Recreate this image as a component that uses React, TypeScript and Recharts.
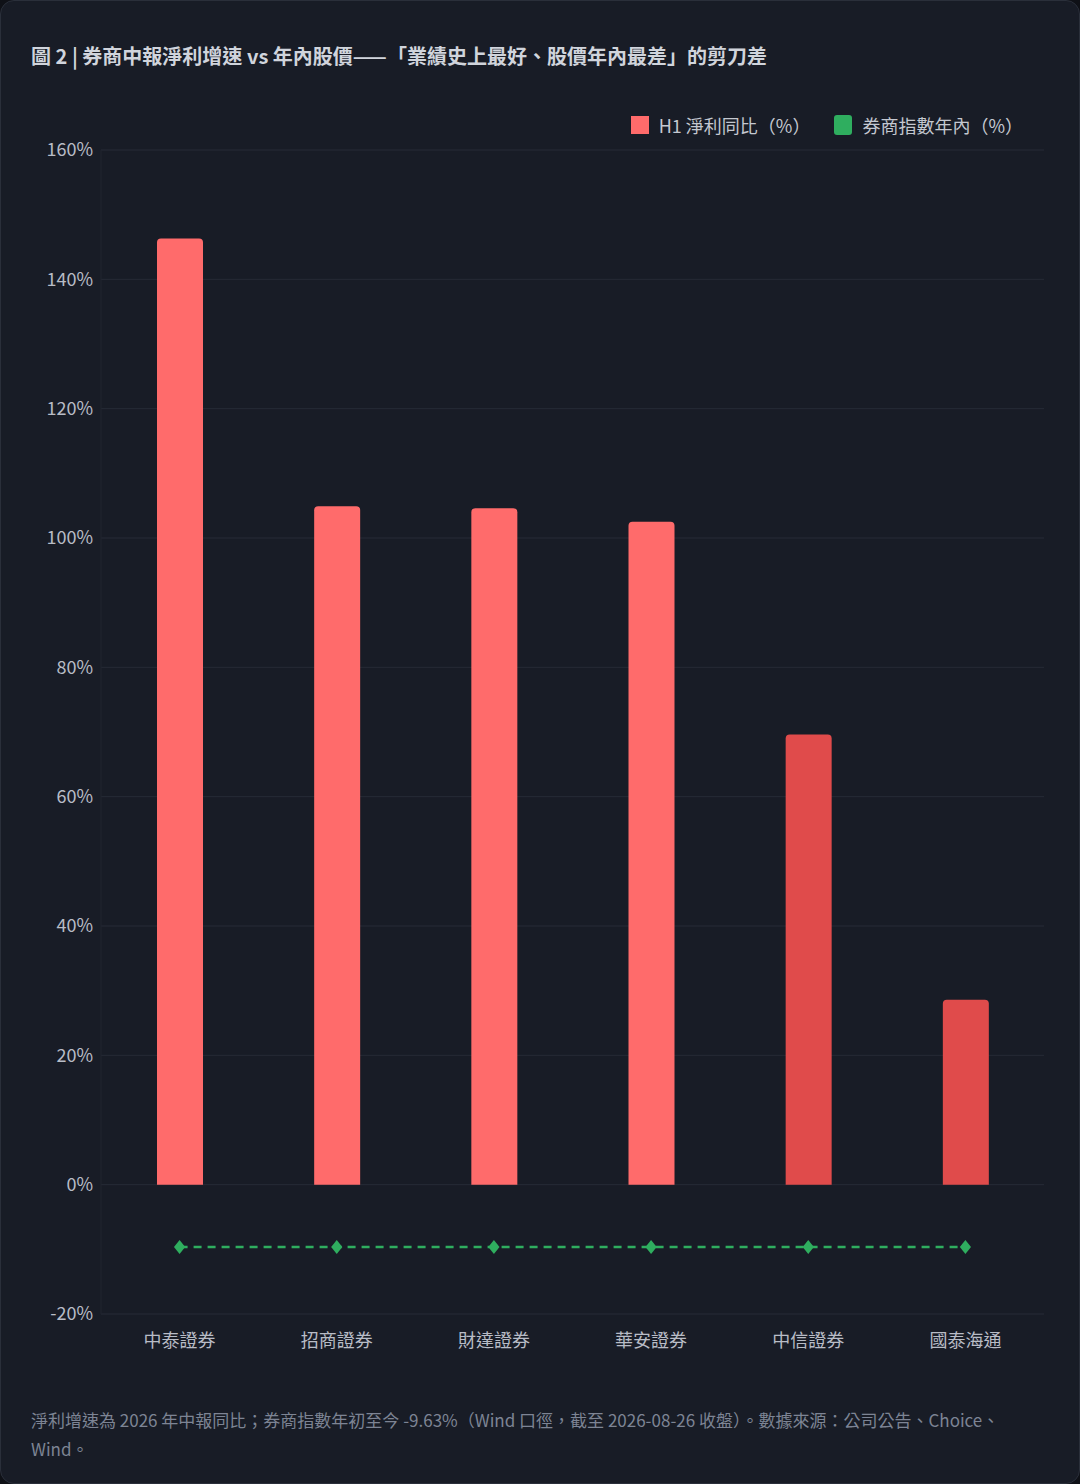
import React from "react";
import { ComposedChart, Bar, Line, XAxis, YAxis, CartesianGrid, Cell } from "recharts";

const categories = ["中泰證券", "招商證券", "財達證券", "華安證券", "中信證券", "國泰海通"];
const profitGrowth = [146.3, 104.9, 104.6, 102.5, 69.6, 28.6];
const indexYtd = [-9.63, -9.63, -9.63, -9.63, -9.63, -9.63];
const barColors = ["#ff6b6b", "#ff6b6b", "#ff6b6b", "#ff6b6b", "#e04b4b", "#e04b4b"];
const yTicks = [-20, 0, 20, 40, 60, 80, 100, 120, 140, 160];

const data = categories.map((name, i) => ({ name, profit: profitGrowth[i], idx: indexYtd[i] }));

const font = "'Noto Sans CJK TC', 'Noto Sans', sans-serif";

const Diamond = (props: any) => {
  const { cx, cy } = props;
  if (cx == null || cy == null) return null;
  const r = 7;
  return <path d={`M${cx},${cy - r}L${cx + r * 0.8},${cy}L${cx},${cy + r}L${cx - r * 0.8},${cy}Z`} fill="#2fae5f" />;
};

export default function App() {
  return (
    <div style={{ position: "relative", width: 1080, height: 1484, background: "#181c26", borderRadius: 14, border: "1px solid #2a2f3a", boxSizing: "border-box", fontFamily: font, overflow: "hidden" }}>
      <style>{"body{margin:0;background:#0f1117}"}</style>
      <div style={{ position: "absolute", left: 30, top: 40, fontSize: 20, fontWeight: 700, color: "#d0d4dc" }}>
        圖 2 | 券商中報淨利增速 vs 年內股價——「業績史上最好、股價年內最差」的剪刀差
      </div>
      <div style={{ position: "absolute", right: 56, top: 111, display: "flex", alignItems: "center", fontSize: 18, color: "#c4c8d0" }}>
        <span style={{ width: 18, height: 18, background: "#ff6b6b", display: "inline-block", marginRight: 10 }} />
        <span>H1 淨利同比（%）</span>
        <span style={{ width: 18, height: 20, background: "#2fae5f", display: "inline-block", marginLeft: 24, marginRight: 10, borderRadius: 3 }} />
        <span>券商指數年內（%）</span>
      </div>
      <div style={{ position: "absolute", left: 0, top: 0 }}>
        <ComposedChart width={1080} height={1400} data={data} margin={{ top: 149, right: 37, bottom: 57, left: 30 }}>
          <CartesianGrid vertical={false} stroke="#262b36" />
          <XAxis dataKey="name" axisLine={false} tickLine={false} tick={{ fill: "#b8bcc6", fontSize: 18, fontFamily: font }} dy={12} />
          <YAxis width={70} domain={[-20, 160]} ticks={yTicks} tickFormatter={(v: number) => `${v}%`} axisLine={{ stroke: "#20242e" }} tickLine={false} tick={{ fill: "#b8bcc6", fontSize: 18, fontFamily: font }} interval={0} />
          <Bar dataKey="profit" barSize={46} radius={[4, 4, 0, 0]} isAnimationActive={false}>
            {data.map((_, i) => <Cell key={i} fill={barColors[i]} />)}
          </Bar>
          <Line dataKey="idx" stroke="#2fae5f" strokeWidth={2.5} strokeDasharray="8 6" dot={<Diamond />} activeDot={false} isAnimationActive={false} />
        </ComposedChart>
      </div>
      <div style={{ position: "absolute", left: 30, top: 1404, width: 1010, fontSize: 17, lineHeight: "29px", color: "#7d8494" }}>
        淨利增速為 2026 年中報同比；券商指數年初至今 -9.63%（Wind 口徑，截至 2026-08-26 收盤）。數據來源：公司公告、Choice、Wind。
      </div>
    </div>
  );
}
